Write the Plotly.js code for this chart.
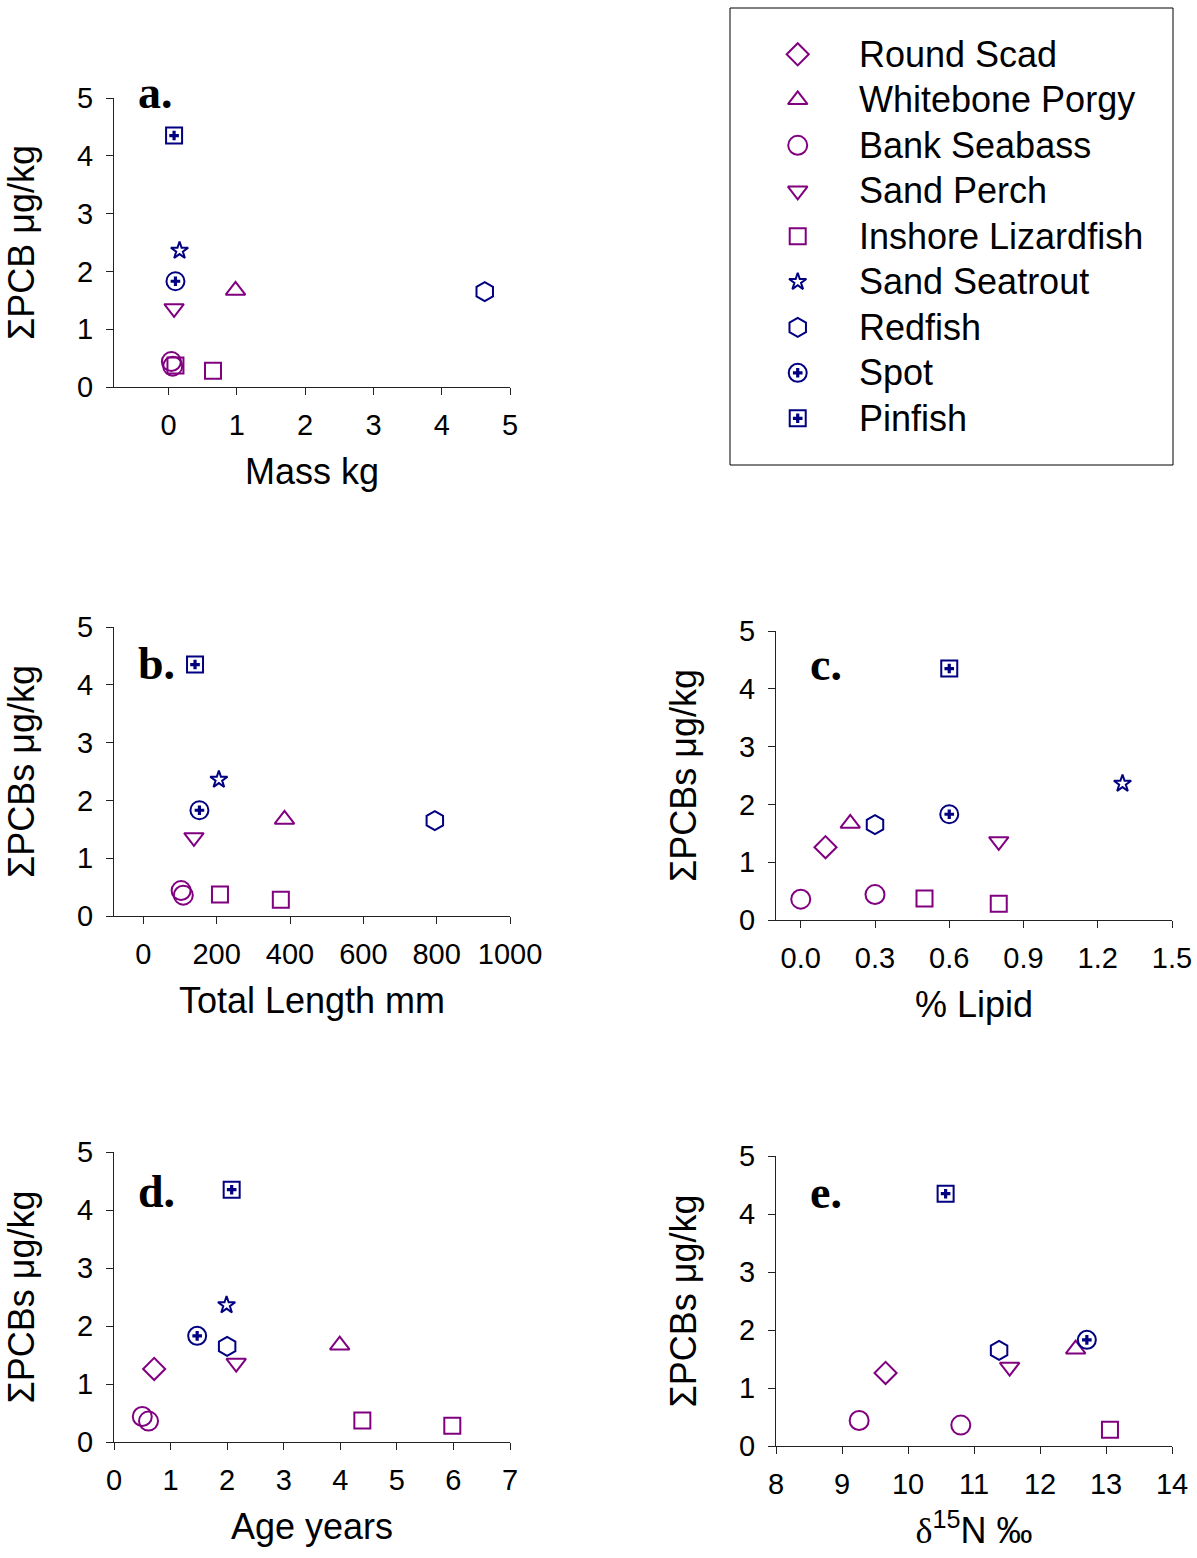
<!DOCTYPE html>
<html><head><meta charset="utf-8">
<script src="https://cdn.plot.ly/plotly-3.0.1.min.js"></script>
<style>body{margin:0;background:#fff}#chart{width:1197px;height:1558px}</style>
</head><body><div id="chart"></div>
<script>
// ---------- data ----------
const species = ["Round Scad","Whitebone Porgy","Bank Seabass","Sand Perch","Inshore Lizardfish","Sand Seatrout","Redfish","Spot","Pinfish"];
const pcb      = [[1.26],[1.67],[0.44,0.36],[1.36],[0.37,0.28],[2.36],[1.65],[1.83],[4.35]];
const massKg   = [[null],[0.98],[0.04,0.06],[0.08],[0.10,0.65],[0.16],[4.63],[0.10],[0.08]];
const lengthMm = [[null],[385],[103,109],[138],[209,375],[206],[795],[153],[141]];
const lipidPct = [[0.10],[0.20],[0.30,0.00],[0.80],[0.50,0.80],[1.30],[0.30],[0.60],[0.60]];
const ageYears = [[0.71],[3.99],[0.50,0.61],[2.16],[4.39,5.98],[1.99],[2.00],[1.47],[2.08]];
const d15N     = [[9.66],[12.54],[9.26,10.80],[11.54],[null,13.06],[null],[11.38],[12.71],[10.57]];
const panelLetters = ["a.","b.","c.","d.","e."];
const xTitles = ["Mass kg","Total Length mm","% Lipid","Age years",
  "<span style=\"font-family:'Liberation Serif',serif\">δ</span><sup>15</sup>N ‰"];
const yTitles = ["ΣPCB μg/kg","ΣPCBs μg/kg","ΣPCBs μg/kg","ΣPCBs μg/kg","ΣPCBs μg/kg"];

// ---------- styles ----------
const PURPLE = '#800080', NAVY = '#000080';
const styles = [
  {symbol:'diamond-open', size:17, color:PURPLE},
  {symbol:'triangle-up-open', size:17, color:PURPLE},
  {symbol:'circle-open', size:19, color:PURPLE},
  {symbol:'triangle-down-open', size:17, color:PURPLE},
  {symbol:'square-open', size:16, color:PURPLE},
  {symbol:'star-open', size:13, color:NAVY},
  {symbol:'hexagon-open', size:19, color:NAVY},
  {symbol:'circle-open', size:18, color:NAVY, plus:true},
  {symbol:'square-open', size:16, color:NAVY, plus:true}
];
const W = 1197, H = 1558;
const px = v => v / W, py = v => 1 - v / H;
const FONT = 'Liberation Sans, Arial, sans-serif';

const panels = [
  {x: massKg,   box:[114,510,98,387],   range:[-0.8,5],    dtick:1,   tick0:0, fmt:'',    letter:[136,109]},
  {x: lengthMm, box:[114,510,627,916],  range:[-80,1000],  dtick:200, tick0:0, fmt:'',    letter:[136,680]},
  {x: lipidPct, box:[776,1172,631,920], range:[-0.1,1.5],  dtick:0.3, tick0:0, fmt:'.1f', letter:[808,681]},
  {x: ageYears, box:[114,510,1152,1442],range:[0,7],       dtick:1,   tick0:0, fmt:'',    letter:[136,1208]},
  {x: d15N,     box:[776,1172,1156,1446],range:[8,14],     dtick:1,   tick0:8, fmt:'',    letter:[808,1209]}
];

const traces = [];
const layout = {
  width: W, height: H, margin:{l:0,r:0,t:0,b:0},
  paper_bgcolor:'#fff', plot_bgcolor:'#fff', showlegend:false,
  font:{family:FONT, color:'#000'},
  annotations:[], shapes:[]
};

panels.forEach((p, i) => {
  const n = i + 1;
  const xa = 'xaxis' + (n === 1 ? '' : n), ya = 'yaxis' + (n === 1 ? '' : n);
  const xr = 'x' + (n === 1 ? '' : n), yr = 'y' + (n === 1 ? '' : n);
  const common = {
    showline:true, linecolor:'#222', linewidth:1, ticks:'outside', ticklen:7,
    tickcolor:'#222', tickwidth:1, showgrid:false, zeroline:false,
    tickfont:{family:FONT, size:29, color:'#000'}
  };
  layout[xa] = Object.assign({}, common, {
    domain:[px(p.box[0]), px(p.box[1])], anchor:yr, range:p.range,
    dtick:p.dtick, tick0:p.tick0, tickformat:p.fmt, ticklabelstandoff:5,
    title:{text:xTitles[i], font:{family:FONT, size:36, color:'#000'}, standoff:19}
  });
  layout[ya] = Object.assign({}, common, {
    domain:[py(p.box[3]), py(p.box[2])], anchor:xr, range:[0,5], dtick:1, tick0:0,
    ticklabelstandoff:7,
    title:{text:yTitles[i], font:{family:FONT, size:36, color:'#000'}, standoff:31}
  });
  species.forEach((s, k) => {
    const st = styles[k];
    traces.push({
      type:'scatter', mode:'markers', name:s, xaxis:xr, yaxis:yr,
      x:p.x[k], y:pcb[k], cliponaxis:false,
      marker:{symbol:st.symbol, size:st.size, color:st.color, line:{color:st.color, width:2}}
    });
    if (st.plus) {
      traces.push({
        type:'scatter', mode:'markers', name:s, xaxis:xr, yaxis:yr,
        x:p.x[k], y:pcb[k], cliponaxis:false,
        marker:{symbol:'cross', size:8, color:st.color, line:{width:0}}
      });
    }
  });
  layout.annotations.push({
    xref:'paper', yref:'paper', x:px(p.letter[0]), y:py(p.letter[1] + 11),
    xanchor:'left', yanchor:'bottom', showarrow:false, text:'<b>' + panelLetters[i] + '</b>',
    font:{family:'Liberation Serif, Times New Roman, serif', size:46, color:'#000'}
  });
});

// ---------- legend (drawn as its own hidden subplot) ----------
const LB = [730, 1173, 8, 465];
layout.xaxis6 = {domain:[px(LB[0]), px(LB[1])], anchor:'y6', range:[-1.075, 5.957], visible:false, fixedrange:true};
layout.yaxis6 = {domain:[py(LB[3]), py(LB[2])], anchor:'x6', range:[9.026, -1.018], visible:false, fixedrange:true};
layout.shapes.push({type:'rect', xref:'paper', yref:'paper', x0:px(LB[0]), x1:px(LB[1]), y0:py(LB[3]), y1:py(LB[2]), line:{color:'#000', width:1}});
species.forEach((s, k) => {
  const st = styles[k];
  traces.push({type:'scatter', mode:'markers', xaxis:'x6', yaxis:'y6', x:[0], y:[k], cliponaxis:false,
    marker:{symbol:st.symbol, size:st.size, color:st.color, line:{color:st.color, width:2}}});
  if (st.plus) traces.push({type:'scatter', mode:'markers', xaxis:'x6', yaxis:'y6', x:[0], y:[k],
    marker:{symbol:'cross', size:8, color:st.color, line:{width:0}}});
  layout.annotations.push({xref:'x6', yref:'y6', x:0.937, y:k, xanchor:'left', yanchor:'middle',
    showarrow:false, text:s, font:{family:FONT, size:36, color:'#000'}});
});

Plotly.newPlot('chart', traces, layout, {staticPlot:true});
</script></body></html>
